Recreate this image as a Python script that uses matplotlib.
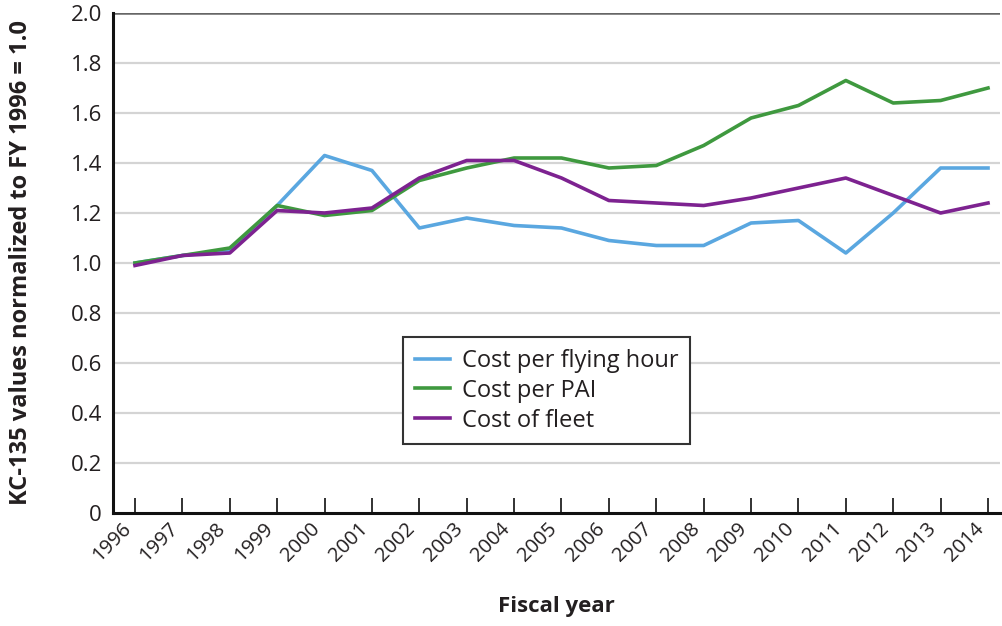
import matplotlib
matplotlib.use("Agg")
import matplotlib.pyplot as plt
from matplotlib.ticker import FixedLocator, FixedFormatter

plt.rcParams['font.family'] = ['Open Sans', 'DejaVu Sans']

years = list(range(1996, 2015))
year_labels = [str(y) for y in years]

cost_per_flying_hour = [1.00, 1.03, 1.05, 1.23, 1.43, 1.37, 1.14, 1.18, 1.15, 1.14, 1.09, 1.07, 1.07,
                        1.16, 1.17, 1.04, 1.20, 1.38, 1.38]
cost_per_pai = [1.00, 1.03, 1.06, 1.23, 1.19, 1.21, 1.33, 1.38, 1.42, 1.42, 1.38, 1.39, 1.47,
                1.58, 1.63, 1.73, 1.64, 1.65, 1.70]
cost_of_fleet = [0.99, 1.03, 1.04, 1.21, 1.20, 1.22, 1.34, 1.41, 1.41, 1.34, 1.25, 1.24, 1.23,
                 1.26, 1.30, 1.34, 1.27, 1.20, 1.24]

y_ticks = [0, 0.2, 0.4, 0.6, 0.8, 1.0, 1.2, 1.4, 1.6, 1.8, 2.0]
y_tick_labels = ['0', '0.2', '0.4', '0.6', '0.8', '1.0', '1.2', '1.4', '1.6', '1.8', '2.0']

series_names = ['Cost per flying hour', 'Cost per PAI', 'Cost of fleet']
colors = ['#5aa7e0', '#3f993f', '#7d2290']

fig = plt.figure(figsize=(10.02, 6.26), dpi=100)
ax = fig.add_axes([113/1002, 1 - 513/626, 887/1002, 500/626])

for g in y_ticks[1:-1]:
    ax.axhline(g, color='#d4d4d4', lw=1.6, zorder=1)
ax.axhline(2.0, color='#666666', lw=1.8, zorder=1)

for vals, name, c in zip([cost_per_flying_hour, cost_per_pai, cost_of_fleet], series_names, colors):
    ax.plot(years, vals, color=c, lw=2.6, label=name, zorder=3)

ax.set_xlim(1995.536, 2014.253)
ax.set_ylim(0, 2.0)

ax.xaxis.set_major_locator(FixedLocator(years))
ax.xaxis.set_major_formatter(FixedFormatter(year_labels))
ax.yaxis.set_major_locator(FixedLocator(y_ticks))
ax.yaxis.set_major_formatter(FixedFormatter(y_tick_labels))

ax.tick_params(axis='x', direction='in', length=11, width=1.3, color='#222222',
               labelsize=14.5, labelcolor='#231f20', pad=4)
ax.tick_params(axis='y', length=0, labelsize=16, labelcolor='#231f20', pad=8)
for lab in ax.get_xticklabels():
    lab.set_rotation(45)
    lab.set_ha('right')
    lab.set_va('top')

for s in ['top', 'right']:
    ax.spines[s].set_visible(False)
for s in ['left', 'bottom']:
    ax.spines[s].set_color('#111111')
    ax.spines[s].set_linewidth(2.2)

ax.set_ylabel('KC-135 values normalized to FY 1996 = 1.0', fontsize=17, fontweight='bold',
              color='#231f20')
ax.yaxis.set_label_coords(-(113 - 33) / 887, 0.5)
ax.set_xlabel('Fiscal year', fontsize=16, fontweight='bold', color='#231f20', labelpad=22)

leg = ax.legend(loc='upper left', bbox_to_anchor=((403-113)/887, (513-337)/500), fontsize=17,
                frameon=True, fancybox=False, edgecolor='#333333', framealpha=1,
                handlelength=1.5, handletextpad=0.5, labelspacing=0.25, borderpad=0.5,
                borderaxespad=0, labelcolor='#231f20')
leg.get_frame().set_linewidth(1.5)

fig.savefig('out.png', dpi=100, facecolor='white')
